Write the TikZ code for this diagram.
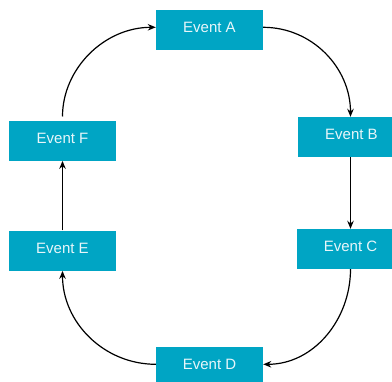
\documentclass[tikz,border=0pt]{standalone}
\usepackage{fontspec}
\setmainfont{Liberation Sans}
\usetikzlibrary{arrows.meta}
\definecolor{boxfill}{RGB}{0,165,196}
\definecolor{boxtext}{RGB}{232,246,250}
\begin{document}
\begin{tikzpicture}[x=1pt,y=-1pt,
  eventbox/.style={rectangle, fill=boxfill, text=boxtext, minimum width=107pt,
    minimum height=40pt, inner sep=0pt, text height=10pt, text depth=4.6pt,
    font=\fontsize{15}{18}\selectfont},
  conn/.style={line width=1.2pt, -{Stealth[length=8pt,width=6.5pt]}}]
\useasboundingbox (0,0) rectangle (392,382);
\node[eventbox] (A) at (209.5,30) {Event A};
\node[eventbox] (B) at (351.5,137) {Event B};
\node[eventbox] (C) at (350.5,249) {Event C};
\node[eventbox] (D) at (209.5,367) {Event D};
\node[eventbox] (E) at (62.5,250.7) {Event E};
\node[eventbox] (F) at (62.5,140.7) {Event F};
\draw[conn, shorten <=4pt] (F.north) to[out=90,in=180] ([yshift=2.7pt]A.west);
\draw[conn] ([yshift=2.7pt]A.east) to[out=0,in=90] (C.south |- B.north);
\draw[conn] (C.south |- B.south) -- (C.north);
\draw[conn] (C.south) to[out=-90,in=0] ([yshift=2.7pt]D.east);
\draw[conn] ([yshift=2.7pt]D.west) to[out=180,in=-90] (E.south);
\draw[conn] (E.north) -- (F.south);
\end{tikzpicture}
\end{document}
